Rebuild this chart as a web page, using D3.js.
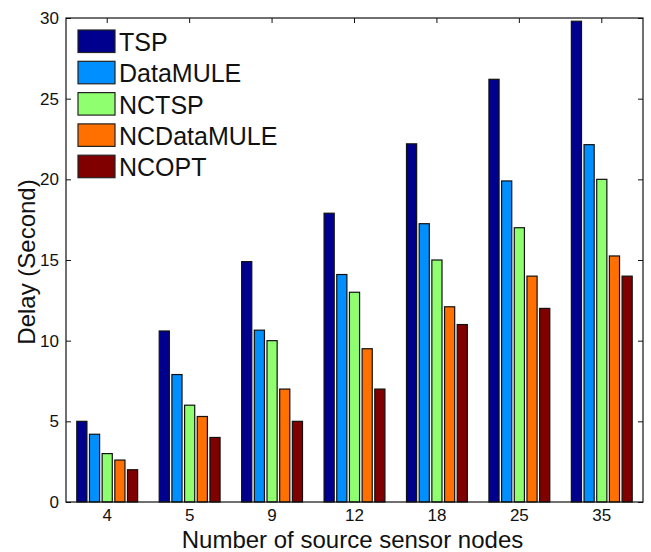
<!DOCTYPE html>
<html lang="en">
<head>
    <meta charset="utf-8">
    <script src="https://d3js.org/d3.v7.min.js"></script>
    <style>
        body { margin: 0; background: #fff; }
        text { font-family: "Liberation Sans", Arial, sans-serif; fill: #111; }
    </style>
</head>
<body>
    <script type="text/javascript">

        let w = 651;
        let h = 552;

        // data
        let categories = ["4", "5", "9", "12", "18", "25", "35"];
        let seriesNames = ["TSP", "DataMULE", "NCTSP", "NCDataMULE", "NCOPT"];
        let tsp        = [5.0, 10.6, 14.9, 17.9, 22.2, 26.2, 29.8];
        let dataMule   = [4.2, 7.9, 10.65, 14.1, 17.25, 19.9, 22.15];
        let nctsp      = [3.0, 6.0, 10.0, 13.0, 15.0, 17.0, 20.0];
        let ncDataMule = [2.6, 5.3, 7.0, 9.5, 12.1, 14.0, 15.25];
        let ncopt      = [2.0, 4.0, 5.0, 7.0, 11.0, 12.0, 14.0];
        let yTicks = [0, 5, 10, 15, 20, 25, 30];
        let colors = ["#00008f", "#008fff", "#8fff70", "#ff7000", "#800000"];

        let seriesValues = [tsp, dataMule, nctsp, ncDataMule, ncopt];

        let pLeft = 66, pRight = 643, pTop = 18, pBottom = 502;

        let svg = d3.select("body").append("svg")
                    .attr("width", w)
                    .attr("height", h);

        let x0 = d3.scaleBand()
                    .domain(categories)
                    .range([pLeft, pRight])
                    .paddingInner(0.231)
                    .paddingOuter(0.1155);

        let x1 = d3.scaleBand()
                    .domain(seriesNames)
                    .range([0, x0.bandwidth()])
                    .paddingInner(0.2)
                    .paddingOuter(0.1);

        let y = d3.scaleLinear()
                    .domain([0, 30])
                    .range([pBottom, pTop]);

        let color = d3.scaleOrdinal().domain(seriesNames).range(colors);

        // bars
        let groups = svg.selectAll("g.grp")
                        .data(categories)
                        .join("g")
                            .attr("class", "grp")
                            .attr("transform", function(d){
                                return "translate(" + x0(d) + ",0)";
                            });

        groups.selectAll("rect")
                .data(function(d, i){
                    return seriesNames.map(function(s, k){
                        return {name: s, value: seriesValues[k][i]};
                    });
                })
                .join("rect")
                    .attr("x", function(d){ return x1(d.name); })
                    .attr("y", function(d){ return y(d.value); })
                    .attr("width", x1.bandwidth())
                    .attr("height", function(d){ return pBottom - y(d.value); })
                    .attr("fill", function(d){ return color(d.name); })
                    .attr("stroke", "#111")
                    .attr("stroke-width", 1.2);

        // axes (MATLAB style box with inner ticks)
        let xAxisB = d3.axisBottom(x0).tickSize(0).tickPadding(7);
        let gxb = svg.append("g")
                    .attr("transform", "translate(0," + pBottom + ")")
                    .call(xAxisB);
        gxb.select(".domain").remove();
        gxb.selectAll("text").style("font-size", "17px")
            .style("font-family", "'Liberation Sans', Arial, sans-serif").attr("fill", "#111");

        let xAxisT = d3.axisTop(x0).tickSize(-5).tickFormat("");
        let gxt = svg.append("g")
                    .attr("transform", "translate(0," + pTop + ")")
                    .call(xAxisT);
        gxt.select(".domain").remove();

        let yAxisL = d3.axisLeft(y).tickValues(yTicks).tickSize(-5).tickPadding(7);
        let gyl = svg.append("g")
                    .attr("transform", "translate(" + pLeft + ",0)")
                    .call(yAxisL);
        gyl.select(".domain").remove();
        gyl.selectAll("text").style("font-size", "17px")
            .style("font-family", "'Liberation Sans', Arial, sans-serif").attr("fill", "#111");

        let yAxisR = d3.axisRight(y).tickValues(yTicks).tickSize(-5).tickFormat("");
        let gyr = svg.append("g")
                    .attr("transform", "translate(" + pRight + ",0)")
                    .call(yAxisR);
        gyr.select(".domain").remove();

        svg.selectAll(".tick line").attr("stroke", "#111");

        svg.append("rect")
            .attr("x", pLeft)
            .attr("y", pTop)
            .attr("width", pRight - pLeft)
            .attr("height", pBottom - pTop)
            .attr("fill", "none")
            .attr("stroke", "#111")
            .attr("stroke-width", 1.2);

        // axis labels
        svg.append("text")
            .text("Number of source sensor nodes")
            .attr("x", (pLeft + pRight) / 2 - 2)
            .attr("y", 548)
            .attr("text-anchor", "middle")
            .style("font-size", "24px");

        svg.append("text")
            .text("Delay (Second)")
            .attr("transform", "translate(35," + ((pTop + pBottom) / 2 + 2) + ") rotate(-90)")
            .attr("text-anchor", "middle")
            .style("font-size", "24px");

        // legend
        let legend = svg.selectAll("g.leg")
                        .data(seriesNames)
                        .join("g")
                            .attr("class", "leg")
                            .attr("transform", function(d, i){
                                return "translate(78," + (30 + i * 31.3) + ")";
                            });

        legend.append("rect")
                .attr("width", 37)
                .attr("height", 22.5)
                .attr("fill", function(d){ return color(d); })
                .attr("stroke", "#222")
                .attr("stroke-width", 1.2);

        legend.append("text")
                .text(function(d){ return d; })
                .attr("x", 41)
                .attr("y", 21)
                .style("font-size", "25px");

    </script>
</body>
</html>
